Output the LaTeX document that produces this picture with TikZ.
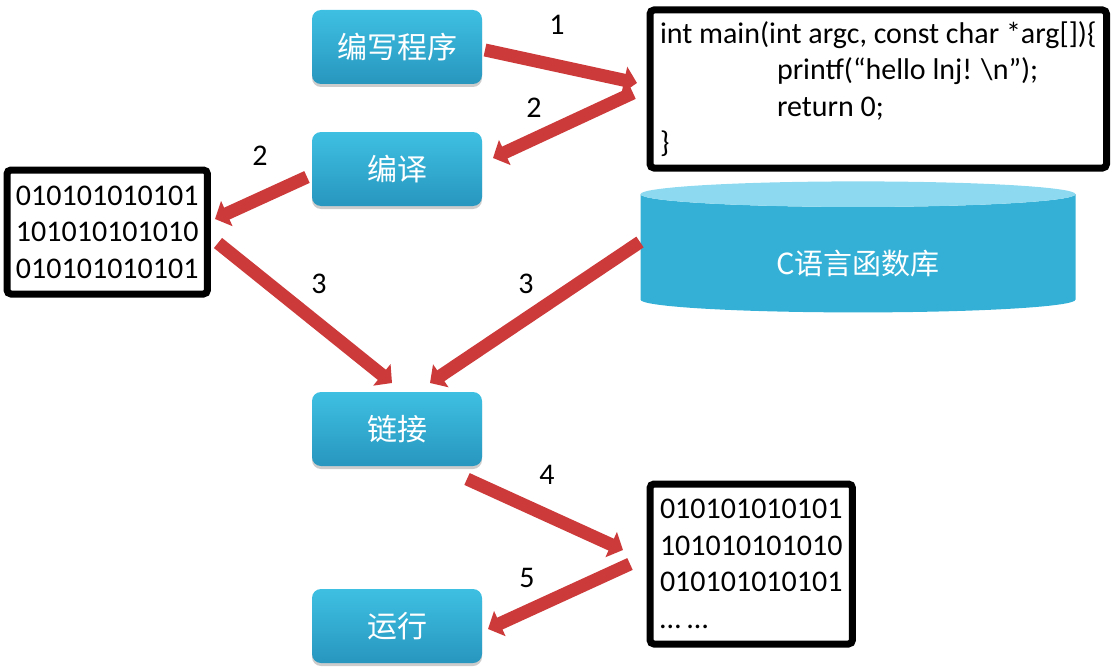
\documentclass[tikz,border=0pt]{standalone}
\usepackage{fontspec}
\setmainfont{Carlito}
\newfontfamily\cjk{Noto Sans CJK SC}
\usetikzlibrary{arrows.meta,shapes.geometric,shadows}
\definecolor{boxtop}{RGB}{62,192,227}
\definecolor{boxbot}{RGB}{40,150,190}
\definecolor{disktop}{RGB}{140,217,240}
\definecolor{diskbody}{RGB}{52,176,214}
\definecolor{arrowred}{RGB}{205,58,58}
\begin{document}
\begin{tikzpicture}[x=1pt, y=-1pt,
    stepbox/.style={rounded corners=9pt, minimum width=170pt, minimum height=74pt,
        top color=boxtop, bottom color=boxbot, text=white,
        font=\cjk\fontsize{30pt}{36pt}\selectfont,
        drop shadow={shadow xshift=0pt, shadow yshift=-3pt, fill=black!50, opacity=.4}},
    framebox/.style={draw, line width=7pt, rounded corners=4pt, align=left,
        anchor=north west, inner xsep=10pt, font=\fontsize{30pt}{36.5pt}\selectfont},
    flow/.style={draw=arrowred, line width=13pt, -{Triangle[length=13pt,width=27pt]}},
    num/.style={font=\fontsize{30pt}{36pt}\selectfont}]
        \useasboundingbox (0,0) rectangle (1112,669);

        \node[stepbox] (write) at (397,47) {编写程序};
        \node[stepbox] (compile) at (397,169) {编译};
        \node[stepbox] (link) at (397,429) {链接};
        \node[stepbox] (run) at (397,626) {运行};

        \node[framebox, minimum height=158pt] (source) at (646.5,6.5)
            {int main(int argc, const char *arg[])\{\\
             \hspace*{117pt}printf(“hello lnj! \textbackslash n”);\\
             \hspace*{117pt}return 0;\\
             \}};
        \node[framebox, minimum height=124pt, inner xsep=9pt] (object) at (3.5,166.5)
            {010101010101\\101010101010\\010101010101};
        \node[framebox, minimum height=160pt] (program) at (646.5,480.5)
            {010101010101\\101010101010\\010101010101\\… …};

        \node[cylinder, shape border rotate=90, aspect=0.15, minimum height=131pt,
            minimum width=435pt, cylinder uses custom fill, cylinder body fill=diskbody,
            cylinder end fill=disktop, text=white, font=\cjk\fontsize{29pt}{34pt}\selectfont]
            (lib) at (858,254.5) {\raisebox{-20pt}[0pt][0pt]{C语言函数库}};

        \coordinate (w1) at (485,50);
        \coordinate (s1) at (637,83);
        \coordinate (s2) at (633,93);
        \coordinate (c2) at (493,158);
        \coordinate (c3) at (307,177);
        \coordinate (o3) at (215,219);
        \coordinate (o4) at (218,243);
        \coordinate (k4) at (392,383);
        \coordinate (l4) at (640,242);
        \coordinate (k5) at (430,383);
        \coordinate (k6) at (467,479);
        \coordinate (p6) at (623,550);
        \coordinate (p7) at (630,564);
        \coordinate (r7) at (488,629);

        \draw[flow] (w1) -- (s1);
        \draw[flow] (s2) -- (c2);
        \draw[flow] (c3) -- (o3);
        \draw[flow] (o4) -- (k4);
        \draw[flow] (l4) -- (k5);
        \draw[flow] (k6) -- (p6);
        \draw[flow] (p7) -- (r7);

        \node[num] (n1) at (557,25) {1};
        \node[num] (n2) at (534,108) {2};
        \node[num] (n3) at (260,156) {2};
        \node[num] (n4) at (319,284) {3};
        \node[num] (n5) at (526,284) {3};
        \node[num] (n6) at (547,475) {4};
        \node[num] (n7) at (527,578) {5};
\end{tikzpicture}
\end{document}
